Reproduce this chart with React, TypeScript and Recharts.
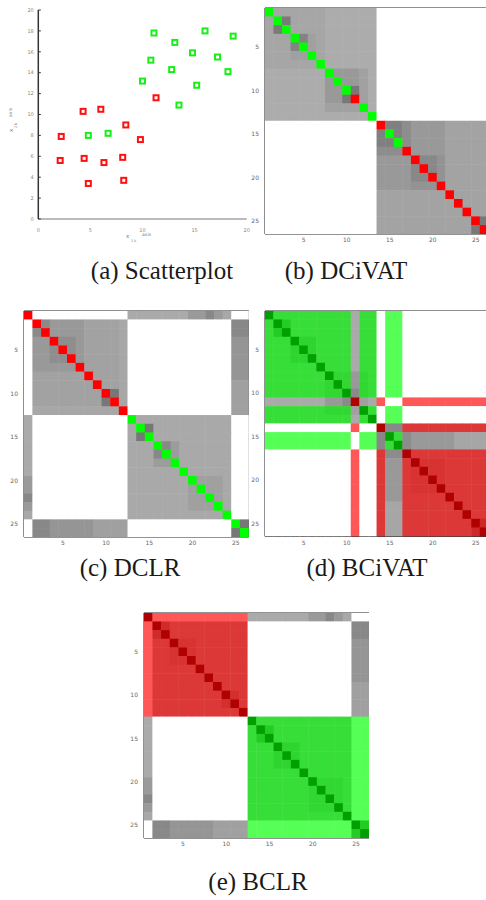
import { ComposedChart, ScatterChart, Scatter, XAxis, YAxis } from 'recharts';

// (a) scatterplot: cluster 1 (red) and cluster 2 (green)
const redX = [2.2, 2.1, 4.3, 4.4, 4.8, 6.0, 6.3, 8.4, 8.1, 8.2, 9.8, 11.3];
const redY = [7.9, 5.6, 10.3, 5.8, 3.4, 10.5, 5.4, 9.0, 5.9, 3.7, 7.6, 11.6];
const greenX = [4.8, 6.7, 10.0, 10.8, 11.1, 12.8, 13.1, 13.5, 14.8, 15.2, 16.0, 17.2, 18.2, 18.7];
const greenY = [8.0, 8.2, 13.2, 15.2, 17.8, 14.3, 16.9, 10.9, 15.9, 12.8, 18.0, 15.5, 14.1, 17.5];
const scatterXTicks = [0, 5, 10, 15, 20];
const scatterYTicks = [0, 2, 4, 6, 8, 10, 12, 14, 16, 18, 20];

// matrix panels
const matrixSize = 26;
const matrixTicks = [5, 10, 15, 20, 25];

// [rowFrom, rowTo, colFrom, colTo, colour], mirrored across the diagonal, painted in order
type Block = [number, number, number, number, string];

const G = '#38de38';
const LG = '#55ff55';
const R = '#dd3838';
const LR = '#ff5757';

const dcivatDiag = 'GGGGGGGGGGRGGRGGRRRRRRRRRR';
const dcivatBlocks: Block[] = [
  [1, 13, 1, 13, '#acacac'],
  [1, 7, 1, 7, '#a6a6a6'],
  [2, 3, 2, 3, '#7a7a7a'],
  [4, 6, 4, 6, '#a0a0a0'],
  [4, 5, 4, 5, '#838383'],
  [8, 12, 8, 12, '#a1a1a1'],
  [8, 11, 8, 11, '#999999'],
  [10, 11, 10, 11, '#787878'],
  [14, 26, 14, 26, '#a3a3a3'],
  [14, 21, 14, 21, '#999999'],
  [14, 17, 14, 17, '#8d8d8d'],
  [14, 16, 14, 16, '#808080'],
  [18, 21, 18, 21, '#939393'],
  [18, 20, 18, 20, '#888888'],
  [25, 26, 25, 26, '#787878'],
];

const dclrDiag = 'RRRRRRRRRRRRGGGGGGGGGGGGGG';
const dclrBlocks: Block[] = [
  [1, 1, 13, 19, '#aaaaaa'],
  [1, 1, 20, 21, '#9a9a9a'],
  [1, 1, 22, 22, '#888888'],
  [1, 1, 23, 23, '#9a9a9a'],
  [1, 1, 24, 24, '#a8a8a8'],
  [2, 12, 2, 12, '#a2a2a2'],
  [2, 12, 12, 12, '#a7a7a7'],
  [2, 7, 2, 7, '#999999'],
  [2, 3, 2, 3, '#8a8a8a'],
  [4, 6, 4, 6, '#8e8e8e'],
  [10, 11, 10, 11, '#777777'],
  [2, 3, 25, 26, '#888888'],
  [4, 8, 25, 26, '#959595'],
  [9, 12, 25, 26, '#a0a0a0'],
  [13, 24, 13, 24, '#a9a9a9'],
  [14, 15, 14, 15, '#777777'],
  [16, 18, 16, 18, '#9c9c9c'],
  [16, 17, 16, 17, '#888888'],
  [20, 23, 20, 23, '#a0a0a0'],
  [25, 26, 25, 26, '#777777'],
];

const bcivatDiag = dcivatDiag;
const bcivatBlocks: Block[] = [
  [1, 13, 1, 13, G],
  [2, 3, 2, 3, '#22cc22'],
  [4, 6, 4, 6, '#2fd52f'],
  [8, 12, 8, 12, '#32d832'],
  [11, 11, 1, 7, '#aaaaaa'],
  [11, 11, 8, 9, '#999999'],
  [11, 11, 10, 10, '#8a8a8a'],
  [11, 11, 12, 12, '#a0a0a0'],
  [11, 11, 13, 13, '#aaaaaa'],
  [11, 11, 14, 14, LR],
  [11, 11, 17, 26, LR],
  [1, 10, 15, 16, LG],
  [12, 13, 15, 16, LG],
  [14, 14, 15, 16, '#888888'],
  [14, 14, 17, 26, R],
  [15, 16, 15, 16, G],
  [15, 16, 17, 17, '#8c8c8c'],
  [15, 16, 18, 22, '#999999'],
  [15, 16, 23, 26, '#a6a6a6'],
  [17, 26, 17, 26, R],
  [18, 21, 18, 21, '#d83232'],
  [25, 26, 25, 26, '#d02828'],
];

const bclrDiag = dclrDiag;
const bclrBlocks: Block[] = [
  [1, 1, 2, 12, LR],
  [1, 1, 13, 19, '#aaaaaa'],
  [1, 1, 20, 21, '#9a9a9a'],
  [1, 1, 22, 22, '#888888'],
  [1, 1, 23, 23, '#9a9a9a'],
  [1, 1, 24, 24, '#a8a8a8'],
  [2, 12, 2, 12, R],
  [2, 3, 2, 3, '#d02a2a'],
  [4, 6, 4, 6, '#d83232'],
  [10, 11, 10, 11, '#d42e2e'],
  [2, 3, 25, 26, '#888888'],
  [4, 8, 25, 26, '#959595'],
  [9, 12, 25, 26, '#a0a0a0'],
  [13, 24, 13, 24, G],
  [14, 15, 14, 15, '#22cc22'],
  [16, 18, 16, 18, '#2fd52f'],
  [20, 23, 20, 23, '#32d832'],
  [13, 24, 25, 26, LG],
  [25, 26, 25, 26, '#22cc22'],
];

const brightDiag = { G: '#00ff00', R: '#ff0000' };
const darkDiag = { G: '#00a000', R: '#b00000' };

type Cell = { x: number; y: number; color: string };

function buildCells(diag: string, blocks: Block[], diagColors: Record<string, string>): Cell[] {
  const grid: string[][] = [];
  for (let r = 0; r < matrixSize; r++) grid.push(new Array(matrixSize).fill('#ffffff'));
  for (const [a1, a2, b1, b2, color] of blocks) {
    for (let r = a1; r <= a2; r++) {
      for (let c = b1; c <= b2; c++) {
        grid[r - 1][c - 1] = color;
        grid[c - 1][r - 1] = color;
      }
    }
  }
  for (let i = 0; i < matrixSize; i++) grid[i][i] = diagColors[diag[i]];
  const cells: Cell[] = [];
  for (let r = 0; r < matrixSize; r++) {
    for (let c = 0; c < matrixSize; c++) cells.push({ x: c + 1, y: r + 1, color: grid[r][c] });
  }
  return cells;
}

const redPoints = redX.map((x, i) => ({ x, y: redY[i] }));
const greenPoints = greenX.map((x, i) => ({ x, y: greenY[i] }));

const hollowSquare = (color: string) => (props: any) => (
  <rect x={props.cx - 2.5} y={props.cy - 2.5} width={5} height={5} fill="#ffffff" stroke={color} strokeWidth={2} />
);

const tinyTick = { fontSize: 5, fill: '#888888', fontFamily: 'DejaVu Sans' };

function ScatterPanel() {
  return (
    <div style={{ position: 'absolute', left: 0, top: 0 }}>
      <ScatterChart width={250} height={245} margin={{ top: 10, right: 3.3, bottom: 6, left: 8.3 }}>
        <XAxis
          dataKey="x"
          type="number"
          domain={[0, 20]}
          ticks={scatterXTicks}
          height={20}
          tickLine={false}
          tickMargin={3}
          axisLine={{ stroke: '#bbbbbb', strokeWidth: 2 }}
          tick={tinyTick}
          label={{
            content: () => (
              <g fill="#777777" fontFamily="DejaVu Sans">
                <text x={126} y={238} fontSize={5.5}>x</text>
                <text x={131} y={242} fontSize={3.5}>1 k</text>
                <text x={142} y={236} fontSize={4.5}>axis</text>
              </g>
            ),
          }}
        />
        <YAxis
          dataKey="y"
          type="number"
          domain={[0, 20]}
          ticks={scatterYTicks}
          width={30}
          tickSize={-2.5}
          tickMargin={7}
          axisLine={{ stroke: '#333333', strokeWidth: 1.5 }}
          tickLine={{ stroke: '#333333' }}
          tick={tinyTick}
          label={{
            content: () => (
              <g fill="#777777" fontFamily="DejaVu Sans" transform="translate(13,132) rotate(-90)">
                <text x={0} y={0} fontSize={5.5}>x</text>
                <text x={4} y={4} fontSize={3.5}>2 k</text>
                <text x={15} y={-1} fontSize={4.5}>axis</text>
              </g>
            ),
          }}
        />
        <Scatter data={redPoints} isAnimationActive={false} shape={hollowSquare('#ff1010')} />
        <Scatter data={greenPoints} isAnimationActive={false} shape={hollowSquare('#18ee18')} />
      </ScatterChart>
    </div>
  );
}

type MatrixProps = { left: number; top: number; plotW: number; plotH: number; cells: Cell[] };

function MatrixPanel({ left, top, plotW, plotH, cells }: MatrixProps) {
  const axisW = 20;
  const axisH = 16;
  const mTop = 8;
  const cw = plotW / matrixSize;
  const ch = plotH / matrixSize;
  const domain: [number, number] = [0.5, matrixSize + 0.5];
  const tickStyle = { fontSize: 6, fill: '#666666', fontFamily: 'DejaVu Sans' };
  const frame = { stroke: '#222222', strokeWidth: 1 };
  return (
    <div style={{ position: 'absolute', left: left - axisW, top: top - mTop }}>
      <ComposedChart
        width={plotW + axisW}
        height={plotH + mTop + axisH}
        margin={{ top: mTop, right: 0, bottom: 0, left: 0 }}
      >
        <XAxis xAxisId="b" dataKey="x" type="number" domain={domain} allowDataOverflow ticks={matrixTicks}
          height={axisH} tickSize={-3} tickMargin={7} axisLine={frame} tickLine={frame} tick={tickStyle} />
        <XAxis xAxisId="t" orientation="top" type="number" domain={domain} allowDataOverflow ticks={matrixTicks}
          mirror tickSize={3} axisLine={frame} tickLine={frame} tick={false} />
        <YAxis yAxisId="l" dataKey="y" type="number" domain={domain} allowDataOverflow reversed ticks={matrixTicks}
          width={axisW} tickSize={-3} tickMargin={9} axisLine={frame} tickLine={frame} tick={tickStyle} />
        <YAxis yAxisId="r" orientation="right" type="number" domain={domain} allowDataOverflow reversed ticks={matrixTicks}
          mirror tickSize={3} axisLine={frame} tickLine={frame} tick={false} />
        <Scatter
          xAxisId="b"
          yAxisId="l"
          data={cells}
          isAnimationActive={false}
          shape={(p: any) => (
            <rect x={p.cx - cw / 2 - 0.25} y={p.cy - ch / 2 - 0.25} width={cw + 0.5} height={ch + 0.5} fill={p.payload.color} />
          )}
        />
      </ComposedChart>
    </div>
  );
}

const captions = [
  { text: '(a) Scatterplot', x: 162, y: 280 },
  { text: '(b) DCiVAT', x: 346, y: 280 },
  { text: '(c) DCLR', x: 130, y: 577 },
  { text: '(d) BCiVAT', x: 367, y: 577 },
  { text: '(e) BCLR', x: 258, y: 891 },
];

export default function App() {
  return (
    <div style={{ position: 'absolute', left: 0, top: 0, width: 486, height: 900, overflow: 'hidden', background: '#ffffff' }}>
      <ScatterPanel />
      <MatrixPanel left={265.3} top={8} plotW={223.6} plotH={226} cells={buildCells(dcivatDiag, dcivatBlocks, brightDiag)} />
      <MatrixPanel left={24.3} top={311} plotW={224.8} plotH={226} cells={buildCells(dclrDiag, dclrBlocks, brightDiag)} />
      <MatrixPanel left={264.5} top={311} plotW={223.6} plotH={225.4} cells={buildCells(bcivatDiag, bcivatBlocks, darkDiag)} />
      <MatrixPanel left={144.3} top={613.3} plotW={225} plotH={225} cells={buildCells(bclrDiag, bclrBlocks, darkDiag)} />
      {captions.map((c) => (
        <div
          key={c.text}
          style={{
            position: 'absolute',
            left: c.x - 100,
            top: c.y - 22,
            width: 200,
            textAlign: 'center',
            fontFamily: '"Liberation Serif", serif',
            fontSize: 25,
            lineHeight: '25px',
            color: '#1a1a1a',
            whiteSpace: 'nowrap',
          }}
        >
          {c.text}
        </div>
      ))}
    </div>
  );
}
